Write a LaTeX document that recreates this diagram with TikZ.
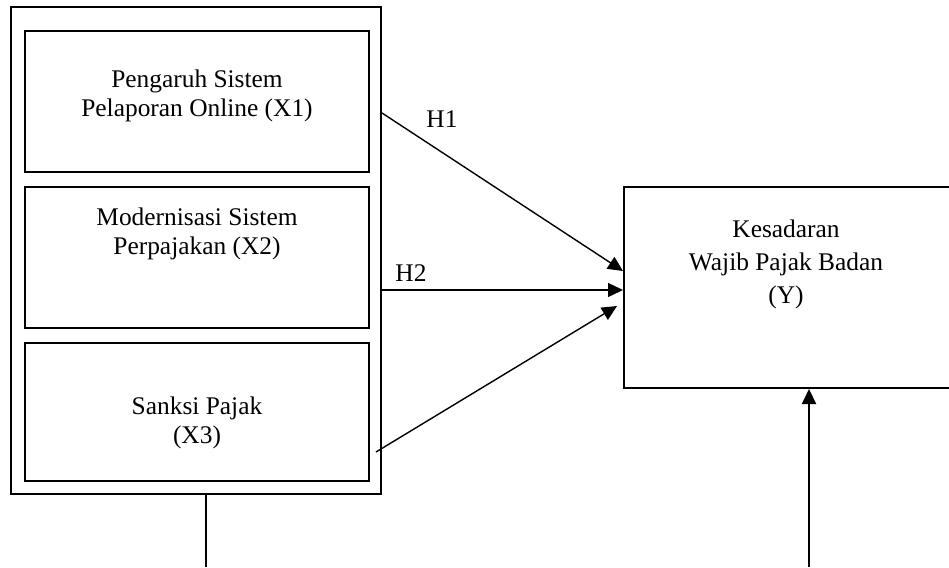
\documentclass[tikz,border=0pt]{standalone}
\usepackage{fontspec}
\setmainfont{Liberation Serif}
\usetikzlibrary{arrows.meta}
\begin{document}
\begin{tikzpicture}[x=1pt,y=-1pt,
  box/.style={draw,line width=2pt,inner sep=0pt,rectangle},
  lbl/.style={font=\fontsize{25.4}{29}\selectfont,align=center,inner sep=0pt},
  link/.style={line width=1.4pt,-{Triangle[length=15pt,width=14pt]}},
  plainline/.style={line width=2pt}]
\useasboundingbox (0,0) rectangle (949,567);
\clip (0,0) rectangle (949,567);

% grouping frame with the three independent variables
\node[box,minimum width=370pt,minimum height=487pt] (outer) at (196,250.5) {};
\node[box,minimum width=344pt,minimum height=141pt] (x1) at (197,101.5) {};
\node[box,minimum width=344pt,minimum height=141pt] (x2) at (197,257.5) {};
\node[box,minimum width=344pt,minimum height=138pt] (x3) at (197,412) {};

% dependent variable (runs past the right edge)
\node[box,minimum width=336pt,minimum height=201pt] (ybox) at (792,287.5) {};

% texts
\node[lbl] (t1) at (197,96) {Pengaruh Sistem\\Pelaporan Online (X1)};
\node[lbl] (t2) at (197,234) {Modernisasi Sistem\\Perpajakan (X2)};
\node[lbl] (t3) at (197,423) {Sanksi Pajak\\(X3)};
\node[lbl] (ty) at (786,264) {Kesadaran\\[4pt]Wajib Pajak Badan\\[4pt](Y)};
\node[lbl] (h1) at (442,119) {H1};
\node[lbl] (h2) at (411,273) {H2};

% arrows into the dependent variable
\coordinate (h1a) at (0,113);
\coordinate (h1b) at (0,271);
\coordinate (h2a) at (0,290);
\draw[link] (outer.east |- h1a) -- (ybox.west |- h1b);
\draw[link] (outer.east |- h2a) -- (ybox.west |- h2a);
\coordinate (h3a) at (376,452);
\coordinate (h3b) at (617,306);
\draw[link] (h3a) -- (h3b);

% vertical lines at the bottom
\coordinate (lx) at (206,0);
\coordinate (lend) at (206,567);
\draw[plainline] (outer.south -| lx) -- (lend);
\coordinate (rstart) at (809,567);
\draw[link,line width=2pt] (rstart) -- (ybox.south -| rstart);
\end{tikzpicture}
\end{document}
